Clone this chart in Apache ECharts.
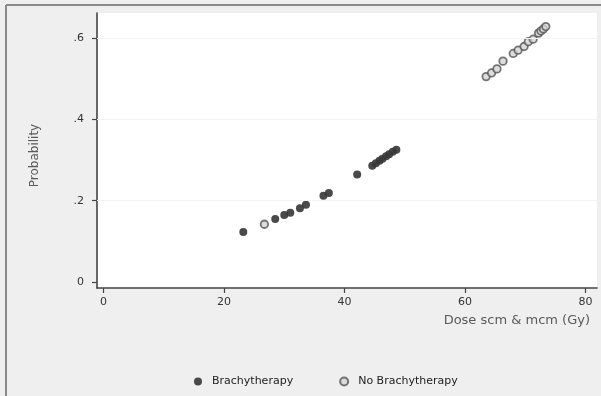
<!DOCTYPE html>
<html>
<head>
<meta charset="utf-8">
<script src="https://cdn.jsdelivr.net/npm/echarts@6/dist/echarts.min.js"></script>
<style>
  html, body { margin: 0; padding: 0; background: #efefef; }
  #chart { width: 601px; height: 396px; }
</style>
</head>
<body>
<div id="chart"></div>
<script>
// Predicted probability against dose (scm & mcm), split by brachytherapy
const seriesNames = ['Brachytherapy', 'No Brachytherapy'];

const brachyDose = [23.2, 28.5, 30.0, 31.0, 32.6, 33.6, 36.5, 37.4, 42.1,
                    44.6, 45.2, 45.8, 46.3, 46.9, 47.4, 48.0, 48.6];
const brachyProb = [0.123, 0.155, 0.165, 0.170, 0.181, 0.190, 0.212, 0.219, 0.264,
                    0.286, 0.292, 0.298, 0.303, 0.309, 0.314, 0.320, 0.325];

const noBrachyDose = [26.7, 63.5, 64.4, 65.3, 66.3, 68.0, 68.8, 69.8, 70.5, 71.3,
                      72.2, 72.6, 73.0, 73.4];
const noBrachyProb = [0.142, 0.505, 0.514, 0.524, 0.543, 0.562, 0.570, 0.579, 0.591, 0.597,
                      0.612, 0.617, 0.622, 0.628];

const xTicks = [0, 20, 40, 60, 80];
const yTicks = [0, 0.2, 0.4, 0.6];

const pairs = (xs, ys) => xs.map((x, i) => [x, ys[i]]);
const fmtY = v => v === 0 ? '0' : String(v).replace(/^0/, '');

const chart = echarts.init(document.getElementById('chart'), null, { renderer: 'canvas' });

const font = 'DejaVu Sans';

chart.setOption({
  backgroundColor: '#efefef',
  animation: false,
  graphic: [
    { type: 'line', shape: { x1: 6, y1: 5, x2: 601, y2: 5 }, style: { stroke: '#8a8a8a', lineWidth: 2 } },
    { type: 'line', shape: { x1: 6, y1: 5, x2: 6, y2: 396 }, style: { stroke: '#8a8a8a', lineWidth: 2 } }
  ],
  grid: {
    left: 97, top: 13, right: 4, bottom: 108,
    show: true, backgroundColor: '#ffffff', borderWidth: 0
  },
  xAxis: {
    type: 'value',
    min: -1.08, max: 81.9,
    name: 'Dose scm & mcm (Gy)',
    nameLocation: 'end',
    nameGap: -7,
    nameTextStyle: { fontFamily: font, fontSize: 13, color: '#5a5a5a', align: 'right', verticalAlign: 'top', padding: [26, 0, 0, 0] },
    axisLine: { onZero: false, lineStyle: { color: '#444', width: 1.6 } },
    axisTick: { show: true, length: 5, customValues: xTicks, lineStyle: { color: '#444', width: 1.2 } },
    axisLabel: { customValues: xTicks, fontFamily: font, fontSize: 11, color: '#333', margin: 9 },
    splitLine: { show: false }
  },
  yAxis: {
    type: 'value',
    min: -0.0148, max: 0.6614,
    name: 'Probability',
    nameLocation: 'middle',
    nameGap: 56,
    nameTextStyle: { fontFamily: font, fontSize: 12, color: '#5a5a5a', padding: [0, 10, 0, 0] },
    axisLine: { onZero: false, lineStyle: { color: '#444', width: 1.6 } },
    axisTick: { show: true, length: 5, customValues: yTicks, lineStyle: { color: '#444', width: 1.2 } },
    axisLabel: { customValues: yTicks, formatter: fmtY, fontFamily: font, fontSize: 11, color: '#333', margin: 13 },
    splitLine: { show: false }
  },
  legend: {
    data: seriesNames,
    left: 189, top: 371,
    icon: 'circle',
    itemWidth: 8, itemHeight: 8,
    itemGap: 46,
    textStyle: { fontFamily: font, fontSize: 11, color: '#222', padding: [0, 0, 0, 5] }
  },
  series: [
    {
      name: seriesNames[0],
      type: 'scatter',
      symbol: 'circle',
      symbolSize: 8,
      itemStyle: { color: '#363636', opacity: 0.9 },
      data: pairs(brachyDose, brachyProb),
      markLine: {
        silent: true, symbol: 'none', label: { show: false },
        lineStyle: { color: '#f3f3f3', type: 'solid', width: 1 },
        data: yTicks.filter(v => v > 0).map(v => ({ yAxis: v }))
      },
      z: 3
    },
    {
      name: seriesNames[1],
      type: 'scatter',
      symbol: 'circle',
      symbolSize: 7.5,
      itemStyle: { color: '#d4d4d4', borderColor: '#555555', borderWidth: 1.8 },
      data: pairs(noBrachyDose, noBrachyProb),
      z: 3
    }
  ]
});
</script>
</body>
</html>
